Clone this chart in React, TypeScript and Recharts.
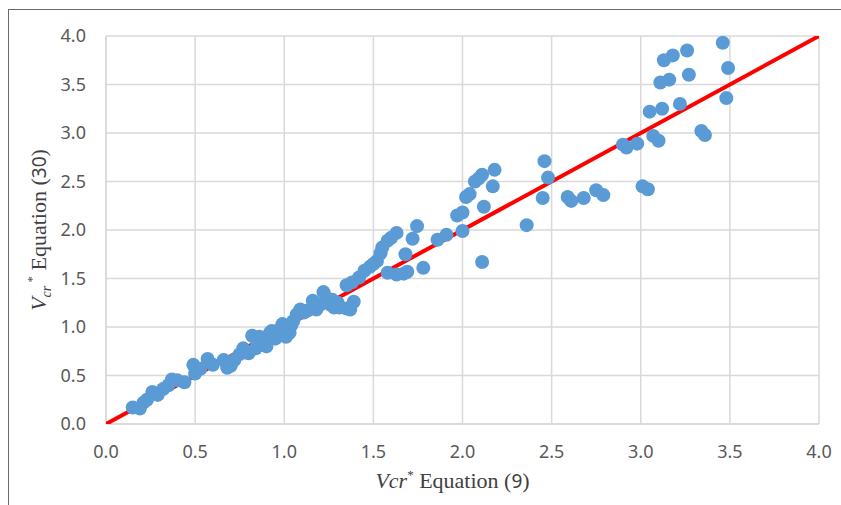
import React from 'react';
import { ScatterChart, Scatter, XAxis, YAxis, CartesianGrid } from 'recharts';

// Vcr* from Equation (9) vs Vcr* from Equation (30)
const eq9Values = [
  0.15, 0.19, 0.21, 0.23, 0.26, 0.29, 0.32, 0.35, 0.37, 0.40, 0.44, 0.49, 0.50, 0.53, 0.57, 0.60,
  0.66, 0.68, 0.70, 0.72, 0.75, 0.77, 0.78, 0.80, 0.82, 0.84, 0.85, 0.86, 0.88, 0.90, 0.92, 0.93,
  0.95, 0.97, 0.98, 0.99, 1.00, 1.01, 1.02, 1.03, 1.04, 1.05, 1.07, 1.09, 1.11, 1.13, 1.16, 1.17,
  1.18, 1.20, 1.22, 1.23, 1.24, 1.26, 1.27, 1.28, 1.30, 1.31, 1.35, 1.37, 1.39, 1.35, 1.38, 1.42,
  1.45, 1.48, 1.50, 1.52, 1.54, 1.55, 1.58, 1.60, 1.63, 1.58, 1.63, 1.67, 1.69, 1.68, 1.72, 1.745,
  1.78, 1.86, 1.91, 1.97, 2.00, 2.00, 2.02, 2.04, 2.07, 2.09, 2.11, 2.12, 2.17, 2.18, 2.11, 2.36,
  2.45, 2.46, 2.48, 2.59, 2.61, 2.68, 2.75, 2.79, 2.90, 2.92, 2.98, 3.01, 3.04, 3.05, 3.12, 3.22,
  3.11, 3.16, 3.13, 3.18, 3.26, 3.27, 3.46, 3.49, 3.48, 3.07, 3.10, 3.34, 3.36,
];
const eq30Values = [
  0.17, 0.16, 0.22, 0.25, 0.33, 0.30, 0.36, 0.40, 0.46, 0.45, 0.43, 0.61, 0.52, 0.57, 0.67, 0.61,
  0.66, 0.58, 0.60, 0.66, 0.72, 0.78, 0.74, 0.73, 0.91, 0.78, 0.84, 0.90, 0.86, 0.80, 0.94, 0.96,
  0.88, 0.97, 0.92, 1.03, 0.95, 0.90, 0.98, 0.94, 1.02, 1.06, 1.13, 1.18, 1.15, 1.17, 1.27, 1.22,
  1.18, 1.23, 1.36, 1.26, 1.30, 1.23, 1.28, 1.20, 1.25, 1.20, 1.19, 1.18, 1.26, 1.43, 1.46, 1.51,
  1.58, 1.62, 1.65, 1.68, 1.76, 1.82, 1.89, 1.92, 1.97, 1.56, 1.54, 1.55, 1.57, 1.75, 1.91, 2.04,
  1.61, 1.90, 1.95, 2.15, 2.18, 1.99, 2.34, 2.37, 2.50, 2.53, 2.57, 2.24, 2.45, 2.62, 1.67, 2.05,
  2.33, 2.71, 2.54, 2.34, 2.30, 2.33, 2.41, 2.36, 2.88, 2.85, 2.89, 2.45, 2.42, 3.22, 3.25, 3.30,
  3.52, 3.55, 3.75, 3.80, 3.85, 3.60, 3.93, 3.67, 3.36, 2.97, 2.92, 3.02, 2.98,
];
const lineEnds = [0, 4];
const axisTicks = [0, 0.5, 1, 1.5, 2, 2.5, 3, 3.5, 4];

const points = eq9Values.map((x, i) => ({ x, y: eq30Values[i] }));
const lineData = lineEnds.map((v) => ({ x: v, y: v }));

const SANS = '"Noto Sans", sans-serif';
const SERIF = '"Liberation Serif", "Times New Roman", serif';

const XLabel = ({ viewBox }: any) => {
  const cx = viewBox.x + viewBox.width / 2 - 10;
  const y = viewBox.y + 64;
  return (
    <text x={cx} y={y} textAnchor="middle" fontFamily={SERIF} fontSize={22} fill="#404040">
      <tspan fontStyle="italic">Vcr</tspan>
      <tspan fontSize={13} dy={-9}>*</tspan>
      <tspan dy={9}> Equation (</tspan>
      <tspan fontFamily={SANS} fontSize={19}>9</tspan>
      <tspan>)</tspan>
    </text>
  );
};

const YLabel = ({ viewBox }: any) => {
  const cx = viewBox.x + 46;
  const cy = viewBox.y + viewBox.height / 2;
  return (
    <text
      x={cx}
      y={cy}
      textAnchor="middle"
      transform={`rotate(-90 ${cx} ${cy})`}
      fontFamily={SERIF}
      fontSize={22}
      fill="#404040"
    >
      <tspan fontStyle="italic">V</tspan>
      <tspan fontStyle="italic" fontSize={14} dy={5}>cr</tspan>
      <tspan fontSize={13} dy={-15}> *</tspan>
      <tspan dy={10}> Equation (</tspan>
      <tspan fontFamily={SANS} fontSize={19}>30</tspan>
      <tspan>)</tspan>
    </text>
  );
};

const fmt = (v: number) => v.toFixed(1);

export default function App() {
  return (
    <div style={{ position: 'absolute', left: 0, top: 0, width: 841, height: 505, overflow: 'hidden', background: '#fff' }}>
      <div
        style={{
          position: 'absolute',
          left: 8,
          top: 9,
          width: 833,
          height: 496,
          boxSizing: 'border-box',
          borderTop: '1.5px solid #6a6a6a',
          borderLeft: '1.5px solid #6a6a6a',
        }}
      />
      <div style={{ position: 'absolute', left: 0, top: 0 }}>
        <ScatterChart width={841} height={505} margin={{ top: 36, right: 22, bottom: 21, left: 0 }}>
          <CartesianGrid stroke="#d9d9d9" strokeWidth={1.5} />
          <XAxis
            type="number"
            dataKey="x"
            domain={[0, 4]}
            ticks={axisTicks}
            tickFormatter={fmt}
            height={60}
            stroke="#d9d9d9"
            strokeWidth={1.5}
            tickLine={false}
            tickSize={0}
            tickMargin={21}
            tick={{ fill: '#595959', fontSize: 18, fontFamily: SANS }}
            allowDataOverflow
            label={<XLabel />}
          />
          <YAxis
            type="number"
            dataKey="y"
            domain={[0, 4]}
            ticks={axisTicks}
            tickFormatter={fmt}
            width={106}
            stroke="#d9d9d9"
            strokeWidth={1.5}
            tickLine={false}
            tickSize={0}
            tickMargin={20}
            tick={{ fill: '#595959', fontSize: 18, fontFamily: SANS }}
            allowDataOverflow
            label={<YLabel />}
          />
          <Scatter
            data={lineData}
            line={{ stroke: '#ff0000', strokeWidth: 4 }}
            shape={() => <g />}
            isAnimationActive={false}
          />
          <Scatter
            data={points}
            fill="#5b9bd5"
            shape={(p: any) => <circle cx={p.cx} cy={p.cy} r={7} fill="#5b9bd5" />}
            isAnimationActive={false}
          />
        </ScatterChart>
      </div>
    </div>
  );
}
